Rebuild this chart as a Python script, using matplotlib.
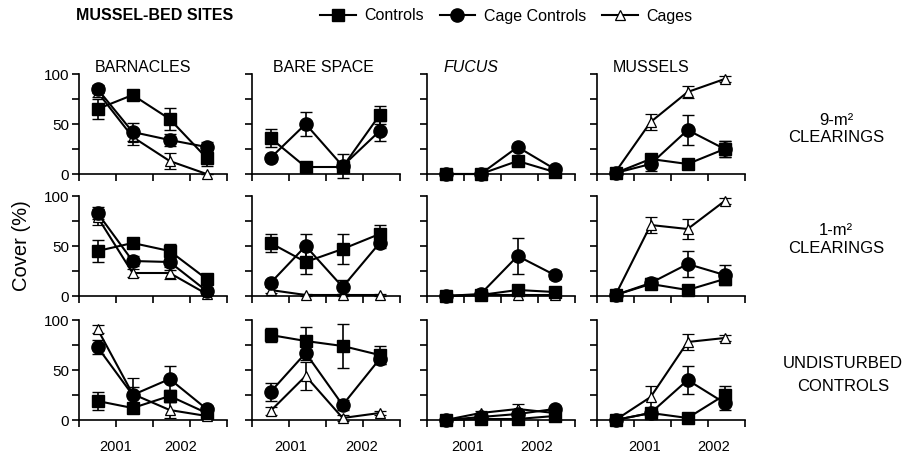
import matplotlib
matplotlib.use('Agg')
import matplotlib.pyplot as plt
from matplotlib.lines import Line2D
import numpy as np

plt.rcParams['font.family'] = ['Liberation Sans', 'DejaVu Sans']

W, H = 907, 461
DPI = 100

# ---------------- data ----------------
x_pos = [0.5, 1.45, 2.45, 3.45]
x_ticks = [0, 1, 2, 3, 4]
y_ticks = [0, 25, 50, 75, 100]
y_ticklabels = ['0', '', '50', '', '100']
columns = ['BARNACLES', 'BARE SPACE', 'FUCUS', 'MUSSELS']
row_labels = [('9-m²', 'CLEARINGS'), ('1-m²', 'CLEARINGS'), ('UNDISTURBED', 'CONTROLS')]
series_names = ['Controls', 'Cage Controls', 'Cages']
years = ['2001', '2002']
year_x = [[1.0, 2.75], [1.05, 2.95], [1.1, 2.95], [1.3, 3.15]]
nan = float('nan')

# 9-m2 clearings
barn9_ctrl = [65, 79, 55, 16];  barn9_ctrl_err = [10, 3, 11, 8]
barn9_cc = [85, 42, 34, 27];    barn9_cc_err = [4, 9, 6, 5]
barn9_cage = [82, 37, 13, 0];   barn9_cage_err = [5, 8, 8, 0]
bare9_ctrl = [36, 7, 7, 59];    bare9_ctrl_err = [9, 2, 3, 9]
bare9_cc = [16, 50, 8, 43];     bare9_cc_err = [3, 12, 12, 10]
bare9_cage = [nan, nan, nan, nan]; bare9_cage_err = [0, 0, 0, 0]
fuc9_ctrl = [0, 0, 13, 2];      fuc9_ctrl_err = [0, 0, 3, 1]
fuc9_cc = [0, 0, 27, 5];        fuc9_cc_err = [0, 0, 3, 2]
fuc9_cage = [nan, nan, nan, nan]; fuc9_cage_err = [0, 0, 0, 0]
mus9_ctrl = [1, 15, 10, 25];    mus9_ctrl_err = [1, 3, 3, 8]
mus9_cc = [1, 10, 44, 25];      mus9_cc_err = [1, 7, 15, 8]
mus9_cage = [2, 52, 82, 95];    mus9_cage_err = [1, 8, 6, 3]

# 1-m2 clearings
barn1_ctrl = [45, 53, 45, 17];  barn1_ctrl_err = [11, 5, 7, 4]
barn1_cc = [83, 35, 34, 5];     barn1_cc_err = [6, 5, 8, 2]
barn1_cage = [79, 23, 23, 2];   barn1_cage_err = [8, 4, 6, 1]
bare1_ctrl = [53, 34, 47, 62];  bare1_ctrl_err = [9, 12, 15, 9]
bare1_cc = [13, 50, 9, 53];     bare1_cc_err = [3, 12, 7, 5]
bare1_cage = [6, 1, 1, 1];      bare1_cage_err = [3, 1, 1, 1]
fuc1_ctrl = [0, 1, 6, 4];       fuc1_ctrl_err = [0, 1, 2, 2]
fuc1_cc = [0, 2, 40, 21];       fuc1_cc_err = [0, 1, 18, 4]
fuc1_cage = [0, 1, 1, 1];       fuc1_cage_err = [0, 0, 0, 0]
mus1_ctrl = [1, 12, 6, 17];     mus1_ctrl_err = [1, 5, 2, 4]
mus1_cc = [1, 13, 32, 21];      mus1_cc_err = [1, 5, 13, 10]
mus1_cage = [1, 71, 67, 95];    mus1_cage_err = [1, 8, 10, 3]

# undisturbed controls
barnU_ctrl = [19, 12, 24, 7];   barnU_ctrl_err = [9, 4, 6, 3]
barnU_cc = [73, 25, 41, 11];    barnU_cc_err = [7, 8, 13, 3]
barnU_cage = [91, 26, 10, 4];   barnU_cage_err = [4, 16, 8, 2]
bareU_ctrl = [85, 79, 74, 65];  bareU_ctrl_err = [7, 14, 22, 9]
bareU_cc = [28, 67, 15, 61];    bareU_cc_err = [9, 7, 5, 5]
bareU_cage = [9, 44, 2, 7];     bareU_cage_err = [4, 14, 3, 2]
fucU_ctrl = [0, 1, 1, 4];       fucU_ctrl_err = [0, 1, 1, 2]
fucU_cc = [0, 3, 6, 11];        fucU_cc_err = [0, 1, 3, 3]
fucU_cage = [0, 7, 11, 7];      fucU_cage_err = [0, 2, 5, 3]
musU_ctrl = [0, 7, 2, 25];      musU_ctrl_err = [0, 3, 1, 9]
musU_cc = [0, 7, 40, 17];       musU_cc_err = [0, 3, 14, 7]
musU_cage = [0, 23, 78, 82];    musU_cage_err = [0, 11, 8, 3]

panels = [
    [(barn9_ctrl, barn9_ctrl_err, barn9_cc, barn9_cc_err, barn9_cage, barn9_cage_err),
     (bare9_ctrl, bare9_ctrl_err, bare9_cc, bare9_cc_err, bare9_cage, bare9_cage_err),
     (fuc9_ctrl, fuc9_ctrl_err, fuc9_cc, fuc9_cc_err, fuc9_cage, fuc9_cage_err),
     (mus9_ctrl, mus9_ctrl_err, mus9_cc, mus9_cc_err, mus9_cage, mus9_cage_err)],
    [(barn1_ctrl, barn1_ctrl_err, barn1_cc, barn1_cc_err, barn1_cage, barn1_cage_err),
     (bare1_ctrl, bare1_ctrl_err, bare1_cc, bare1_cc_err, bare1_cage, bare1_cage_err),
     (fuc1_ctrl, fuc1_ctrl_err, fuc1_cc, fuc1_cc_err, fuc1_cage, fuc1_cage_err),
     (mus1_ctrl, mus1_ctrl_err, mus1_cc, mus1_cc_err, mus1_cage, mus1_cage_err)],
    [(barnU_ctrl, barnU_ctrl_err, barnU_cc, barnU_cc_err, barnU_cage, barnU_cage_err),
     (bareU_ctrl, bareU_ctrl_err, bareU_cc, bareU_cc_err, bareU_cage, bareU_cage_err),
     (fucU_ctrl, fucU_ctrl_err, fucU_cc, fucU_cc_err, fucU_cage, fucU_cage_err),
     (musU_ctrl, musU_ctrl_err, musU_cc, musU_cc_err, musU_cage, musU_cage_err)],
]

# ---------------- styles ----------------
styles = {
    'Controls': dict(marker='s', ms=8.5, mfc='black', mec='black', mew=1.0),
    'Cage Controls': dict(marker='o', ms=9.5, mfc='black', mec='black', mew=1.0),
    'Cages': dict(marker='^', ms=7.5, mfc='white', mec='black', mew=0.9),
}
draw_order = ['Cages', 'Cage Controls', 'Controls']

col_left = [79, 252, 427, 597]
col_w = 148
row_top = [74, 196, 320]
row_h = 100

fig = plt.figure(figsize=(W / DPI, H / DPI), dpi=DPI)


def fx(px):
    return px / W


def fy(py):
    return 1 - py / H


for r in range(3):
    for c in range(4):
        ax = fig.add_axes([fx(col_left[c]), fy(row_top[r] + row_h), col_w / W, row_h / H])
        ctrl, ctrl_e, cc, cc_e, cage, cage_e = panels[r][c]
        data = {'Controls': (ctrl, ctrl_e), 'Cage Controls': (cc, cc_e), 'Cages': (cage, cage_e)}
        for name in draw_order:
            vals, errs = data[name]
            if np.all(np.isnan(np.array(vals, dtype=float))):
                continue
            cont = ax.errorbar(x_pos, vals, yerr=errs, color='black', lw=1.5,
                               elinewidth=1.2, capsize=4, capthick=1.2,
                               zorder=3 + draw_order.index(name), **styles[name])
            for art in cont.get_children():
                art.set_clip_on(False)
        ax.set_xlim(0, 4)
        ax.set_ylim(0, 100)
        ax.set_xticks(x_ticks)
        ax.set_xticklabels([])
        ax.set_yticks(y_ticks)
        if c == 0:
            ax.set_yticklabels(y_ticklabels, fontsize=11)
        else:
            ax.set_yticklabels([])
        for s in ['top', 'right']:
            ax.spines[s].set_visible(False)
        for s in ['left', 'bottom']:
            ax.spines[s].set_linewidth(1.2)
        ax.tick_params(direction='out', length=5, width=1.2, pad=2)
        ax.patch.set_alpha(0)
        if r == 0:
            off = 21 if c == 1 else 16
            fig.text(fx(col_left[c] + off), fy(67), columns[c], fontsize=11.5,
                     ha='left', va='center', style='italic' if c == 2 else 'normal')
        if r == 2:
            for yi, yl in enumerate(years):
                ax.text(year_x[c][yi], -0.27, yl, transform=ax.get_xaxis_transform(),
                        ha='center', va='center', fontsize=10.5)

# row labels
row_lab_pos = [(836, 120, 137), (836, 230, 248), (843, 364, 386)]
for (l1, l2), (xp, y1, y2) in zip(row_labels, row_lab_pos):
    fig.text(fx(xp), fy(y1), l1, ha='center', va='center', fontsize=12)
    fig.text(fx(xp), fy(y2), l2, ha='center', va='center', fontsize=12)

# y label
fig.text(fx(22), fy(246), 'Cover (%)', rotation=90, ha='center', va='center', fontsize=14.5)

# header
fig.text(fx(76), fy(16), 'MUSSEL-BED SITES', fontsize=11.5, fontweight='bold',
         ha='left', va='center')

handles = [Line2D([0], [0], color='black', lw=1.5, **styles[n]) for n in series_names]
fig.legend(handles, series_names, loc='center left', bbox_to_anchor=(fx(320), fy(16)),
           ncol=3, frameon=False, fontsize=11.5, handlelength=2.25, handletextpad=0.55,
           columnspacing=0.95, borderpad=0, borderaxespad=0)

fig.savefig('out.png', dpi=DPI)
